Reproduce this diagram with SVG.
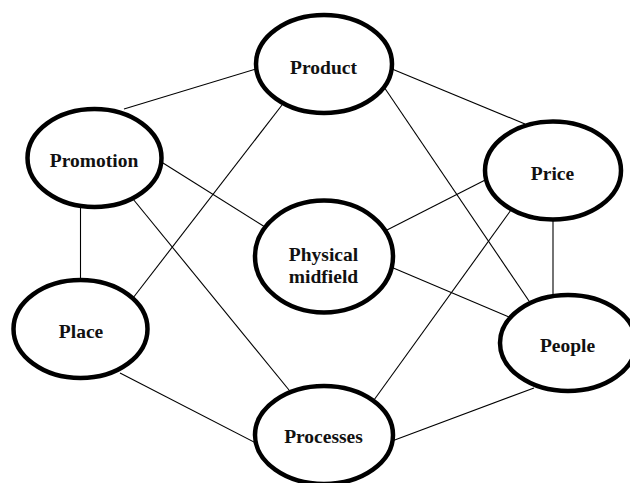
<svg xmlns="http://www.w3.org/2000/svg" width="630" height="483" viewBox="0 0 630 483">
<style>
.c line{stroke:#000;stroke-width:1.1}
.n ellipse{fill:#fff;stroke:#000;stroke-width:4.5}
.n text{font-family:"Liberation Serif","Times New Roman",serif;font-weight:bold;font-size:19.5px;fill:#111;text-anchor:middle}
</style>
<rect width="630" height="483" fill="#fff"/>
<g id="connectors" class="c">
<line x1="124" y1="109" x2="256" y2="69"/>
<line x1="282" y1="105" x2="133" y2="298"/>
<line x1="163" y1="163" x2="265" y2="227"/>
<line x1="133" y1="199" x2="289" y2="390"/>
<line x1="80.5" y1="200" x2="80.5" y2="286"/>
<line x1="120" y1="373" x2="256" y2="443"/>
<line x1="392" y1="69" x2="525" y2="124"/>
<line x1="384" y1="87" x2="529" y2="301"/>
<line x1="387" y1="230" x2="495" y2="175"/>
<line x1="511" y1="210" x2="374" y2="400"/>
<line x1="553" y1="213" x2="553" y2="294"/>
<line x1="391" y1="267" x2="509" y2="317"/>
<line x1="392" y1="441" x2="534" y2="388"/>
</g>
<g id="product" class="n"><ellipse cx="324" cy="64" rx="68" ry="49"/><text x="323.5" y="74">Product</text></g>
<g id="promotion" class="n"><ellipse cx="94.5" cy="158" rx="67" ry="49"/><text x="94" y="167">Promotion</text></g>
<g id="price" class="n"><ellipse cx="553" cy="170.5" rx="68" ry="49"/><text x="552.5" y="180">Price</text></g>
<g id="physical-midfield" class="n"><ellipse cx="324" cy="256.5" rx="69" ry="56"/><text x="323.5" y="261">Physical</text><text x="323.5" y="283">midfield</text></g>
<g id="place" class="n"><ellipse cx="80.5" cy="329" rx="67" ry="49"/><text x="81" y="338">Place</text></g>
<g id="people" class="n"><ellipse cx="568" cy="343" rx="68" ry="48"/><text x="567.5" y="352">People</text></g>
<g id="processes" class="n"><ellipse cx="324" cy="435" rx="69" ry="49"/><text x="323.5" y="443">Processes</text></g>
</svg>
